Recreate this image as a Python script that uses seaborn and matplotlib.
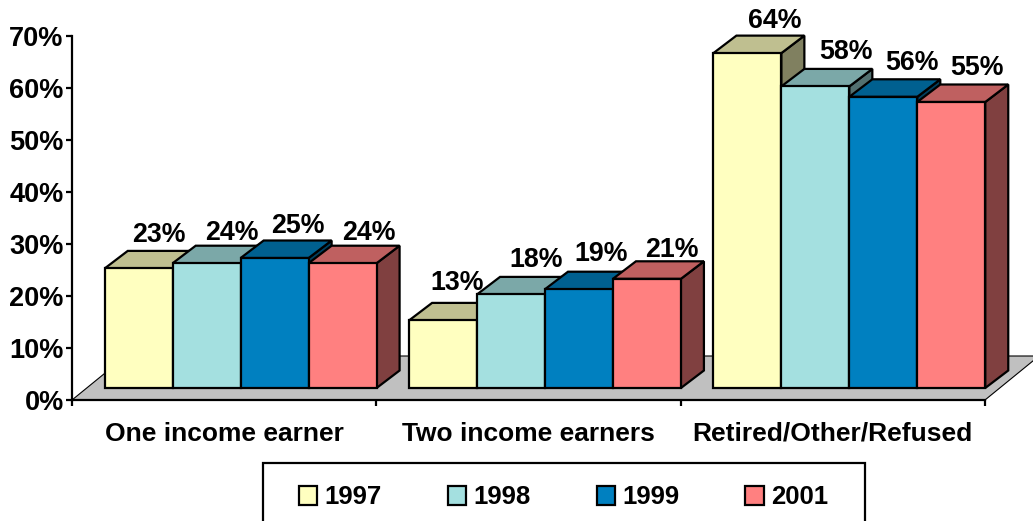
import numpy as np
import pandas as pd
import matplotlib
matplotlib.use("Agg")
import matplotlib.pyplot as plt
from matplotlib.patches import Polygon, Rectangle
from matplotlib.transforms import Affine2D, IdentityTransform
import seaborn as sns

categories = ["One income earner", "Two income earners", "Retired/Other/Refused"]
years = ["1997", "1998", "1999", "2001"]
values_1997 = [23, 13, 64.4]
values_1998 = [24, 18, 58]
values_1999 = [25, 19, 56]
values_2001 = [24, 21, 55]
colors = ["#FFFFC0", "#A4E0E0", "#0080C0", "#FF8080"]
tick_values = [0, 10, 20, 30, 40, 50, 60, 70]

W, H = 1033, 521
FONT = "Liberation Sans"
LW = 1.6

sns.set_theme(style="white")
plt.rcParams["font.family"] = [FONT, "DejaVu Sans"]
plt.rcParams["font.weight"] = "bold"

df = pd.DataFrame({
    "category": categories * 4,
    "year": np.repeat(years, 3),
    "value": values_1997 + values_1998 + values_1999 + values_2001,
})

fig = plt.figure(figsize=(W / 100, H / 100), dpi=100, facecolor="white")
ax = fig.add_axes([72 / W, (H - 400) / H, 913 / W, 364 / H])
ax.set_facecolor("none")

sns.barplot(data=df, x="category", y="value", hue="year", order=categories,
            hue_order=years, palette=colors, saturation=1, width=272 / 304.5,
            gap=0, edgecolor="black", linewidth=LW, ax=ax, errorbar=None)
ax.set_xlim(-0.5, 2.5)
ax.set_ylim(0, 70)
fig.canvas.draw()

handles, labels = ax.get_legend_handles_labels()
ax.get_legend().remove()

# pseudo-3D geometry, in pixels (display y points up)
SHIFT_X, SHIFT_Y = 16.5, 12
DEPTH_X, DEPTH_Y = 23, 17.5
px = IdentityTransform()

# where each value label sits relative to the top centre of its bar, left to right
label_nudges = [(20, 33), (25, 30), (23, 32), (26, 30),
                (14, 37), (25, 34), (22, 35), (25, 29),
                (27, 32), (31, 34), (29, 34), (26, 34)]


def shade(color, factor):
    rgb = np.array(matplotlib.colors.to_rgb(color))
    return tuple(rgb * factor)


# floor
x0, y0 = ax.transAxes.transform((0, 0))
x1, _ = ax.transAxes.transform((1, 0))
floor = Polygon([(x0, y0), (x1, y0), (x1 + 54, y0 + 44), (x0 + 54, y0 + 44)],
                closed=True, facecolor="#C0C0C0", edgecolor="black",
                linewidth=0.8, transform=px, zorder=1, clip_on=False)
ax.add_patch(floor)

# bars: front faces come from seaborn, side and top follow them
containers = list(ax.containers)
bars = []
for k, cont in enumerate(containers):
    for b in cont:
        bars.append((b.get_x(), b, colors[k]))
bars.sort(key=lambda t: t[0])

offset = ax.transData + Affine2D().translate(SHIFT_X, SHIFT_Y)
for i, (_, b, col) in enumerate(bars):
    z = 5 + i * 0.01
    (l, bot), (r, top) = offset.transform(
        [(b.get_x(), 0), (b.get_x() + b.get_width(), b.get_height())])
    side = Polygon([(r, bot), (r + DEPTH_X, bot + DEPTH_Y),
                    (r + DEPTH_X, top + DEPTH_Y), (r, top)],
                   closed=True, facecolor=shade(col, 0.5), edgecolor="black",
                   linewidth=LW, transform=px, zorder=z, clip_on=False, joinstyle="miter")
    cap = Polygon([(l, top), (l + DEPTH_X, top + DEPTH_Y),
                   (r + DEPTH_X, top + DEPTH_Y), (r, top)],
                  closed=True, facecolor=shade(col, 0.75), edgecolor="black",
                  linewidth=LW, transform=px, zorder=z + 0.001, clip_on=False, joinstyle="miter")
    ax.add_patch(side)
    ax.add_patch(cap)
    b.set_transform(offset)
    b.set_zorder(z + 0.002)
    b.set_clip_on(False)
    b.set_joinstyle("miter")
    nx, ny = label_nudges[i]
    ax.annotate(f"{b.get_height():.0f}%",
                xy=(b.get_x() + b.get_width() / 2, b.get_height()), xycoords="data",
                xytext=(SHIFT_X + nx, SHIFT_Y + ny), textcoords="offset pixels",
                ha="center", va="center", fontsize=19.3, fontweight="bold",
                color="black", zorder=10, annotation_clip=False)

# axes
sns.despine(ax=ax)
for s in ("left", "bottom"):
    ax.spines[s].set_linewidth(LW)
    ax.spines[s].set_color("black")
    ax.spines[s].set_zorder(4)
ax.set_xlabel("")
ax.set_ylabel("")
ax.set_yticks(tick_values)
ax.set_yticklabels([f"{t}%" for t in tick_values], fontsize=19.5, fontweight="bold", color="black")
ax.set_xticks([-0.5, 0.5, 1.5, 2.5])
ax.set_xticklabels([])
ax.set_xticks([0, 1, 2], minor=True)
ax.set_xticklabels(categories, minor=True, fontsize=19, fontweight="bold", color="black")
ax.tick_params(axis="y", which="major", direction="out", left=True, length=4, width=LW, pad=2, color="black")
ax.tick_params(axis="x", which="major", direction="out", bottom=True, length=4, width=LW, color="black")
ax.tick_params(axis="x", which="minor", bottom=False, length=0, pad=15.5)

# legend box runs off the bottom of the picture
fig.add_artist(Rectangle((263, H - 463 - 70), 602, 70, transform=px, facecolor="white",
                         edgecolor="black", linewidth=LW))
leg = fig.legend(handles, labels, ncol=4, loc="center", frameon=False,
                 bbox_to_anchor=(563.5 / W, (H - 497.5) / H), labelcolor="black",
                 prop={"family": FONT, "weight": "bold", "size": 18.5},
                 handlelength=0.72, handleheight=0.75, handletextpad=0.28,
                 columnspacing=2.57, borderpad=0, borderaxespad=0)
for h in leg.legend_handles:
    h.set_edgecolor("black")
    h.set_linewidth(LW)

fig.savefig("out.png", dpi=100, facecolor="white")
